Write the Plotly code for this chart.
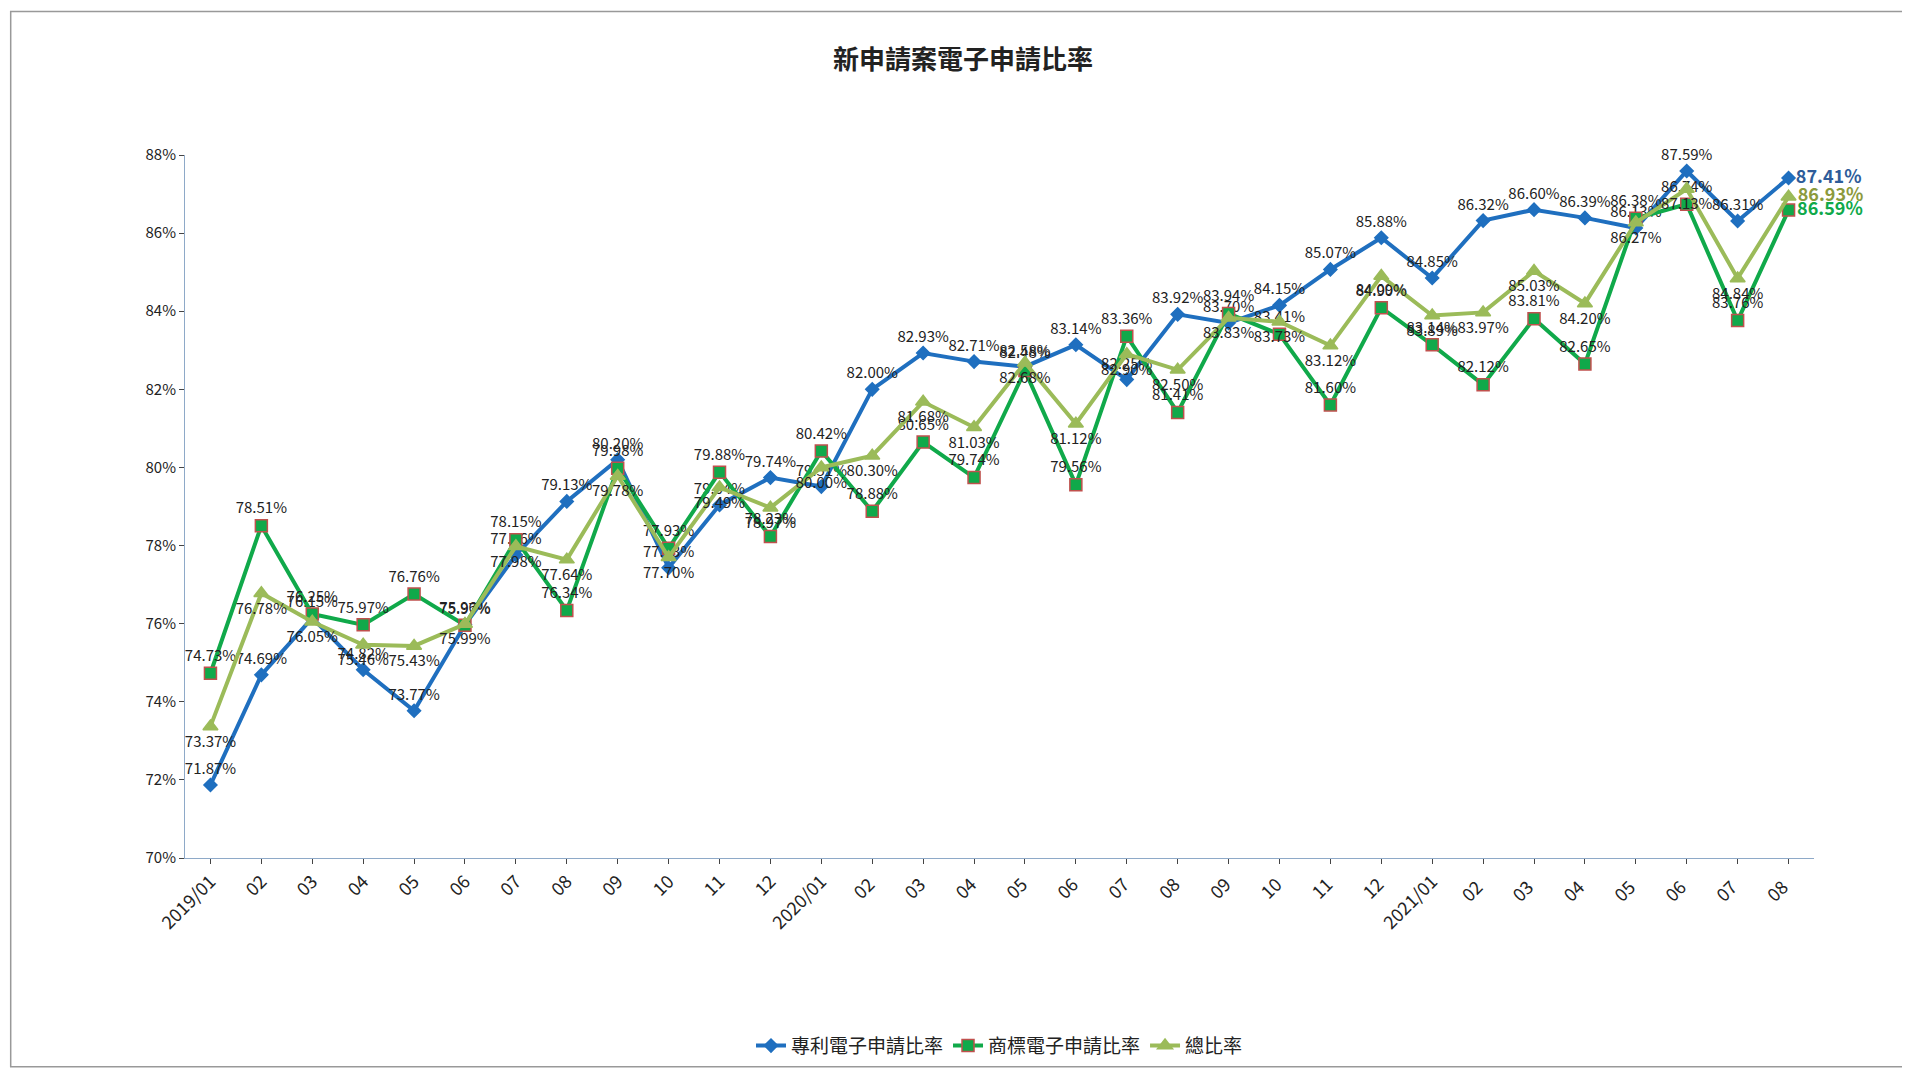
import plotly.graph_objects as go

months = ["2019/01", "02", "03", "04", "05", "06", "07", "08", "09", "10", "11", "12",
          "2020/01", "02 ", "03 ", "04 ", "05 ", "06 ", "07 ", "08 ", "09 ", "10 ", "11 ", "12 ",
          "2021/01", "02  ", "03  ", "04  ", "05  ", "06  ", "07  ", "08  "]

patent = [71.87, 74.69, 76.15, 74.82, 73.77, 75.97, 77.76, 79.13, 80.20, 77.43, 79.04, 79.74,
          79.51, 82.00, 82.93, 82.71, 82.58, 83.14, 82.25, 83.92, 83.70, 84.15, 85.07, 85.88,
          84.85, 86.32, 86.60, 86.39, 86.13, 87.59, 86.31, 87.41]
trademark = [74.73, 78.51, 76.25, 75.97, 76.76, 75.96, 78.15, 76.34, 79.98, 77.93, 79.88, 78.23,
             80.42, 78.88, 80.65, 79.74, 82.48, 79.56, 83.36, 81.41, 83.94, 83.41, 81.60, 84.09,
             83.14, 82.12, 83.81, 82.65, 86.38, 86.74, 83.76, 86.59]
total = [73.37, 76.78, 76.05, 75.46, 75.43, 75.99, 77.98, 77.64, 79.78, 77.70, 79.49, 78.97,
         80.00, 80.30, 81.68, 81.03, 82.68, 81.12, 82.90, 82.50, 83.83, 83.73, 83.12, 84.90,
         83.89, 83.97, 85.03, 84.20, 86.27, 87.13, 84.84, 86.93]

series = [
    ("專利電子申請比率", patent, "#1f6fbf", "diamond", 10, "#2e5c99", "top center"),
    ("商標電子申請比率", trademark, "#10a94a", "square", 12, "#10a94a", "top center"),
    ("總比率", total, "#9bbb59", "triangle-up", 13, "#8c9a3c", "bottom center"),
]

fig = go.Figure()
for name, vals, col, sym, size, endcol, pos in series:
    n = len(vals)
    texts = ["%.2f%%" % v for v in vals[:-1]] + ["<b>%.2f%%</b>" % vals[-1]]
    tcols = ["#222222"] * (n - 1) + [endcol]
    tsizes = [15] * (n - 1) + [18]
    tpos = [pos] * (n - 1) + ["middle right"]
    fig.add_trace(go.Scatter(
        x=months, y=vals, name=name, mode="lines+markers+text",
        line=dict(color=col, width=4),
        marker=dict(symbol=sym, size=size, color=col,
                    line=dict(color="#c0504d" if sym == "square" else col, width=1.5)),
        text=texts, textposition=tpos,
        textfont=dict(color=tcols, size=tsizes, family="Noto Sans CJK TC"),
        cliponaxis=False,
    ))

fig.update_layout(
    width=1910, height=1069,
    paper_bgcolor="white", plot_bgcolor="white",
    font=dict(family="Noto Sans CJK TC", color="#222222"),
    title=dict(text="<b>新申請案電子申請比率</b>", x=0.5, y=0.96, font=dict(size=26)),
    margin=dict(l=177, r=104, t=147, b=213),
    showlegend=True,
    legend=dict(orientation="h", x=0.5, xanchor="center", y=-0.24, font=dict(size=19)),
    xaxis=dict(type="category", range=[-0.5, 31.5], tickangle=-45, showgrid=False,
               showline=True, linecolor="#8ea9c8", ticks="outside", tickfont=dict(size=18)),
    yaxis=dict(range=[70, 88], dtick=2, ticksuffix="%", showgrid=False, showline=True,
               linecolor="#8ea9c8", ticks="outside", tickfont=dict(size=15)),
    shapes=[dict(type="rect", xref="paper", yref="paper", x0=-0.107, x1=1.062,
                 y0=-0.297, y1=1.204, line=dict(color="#999999", width=1.5))],
)

fig.write_html("out.html")
